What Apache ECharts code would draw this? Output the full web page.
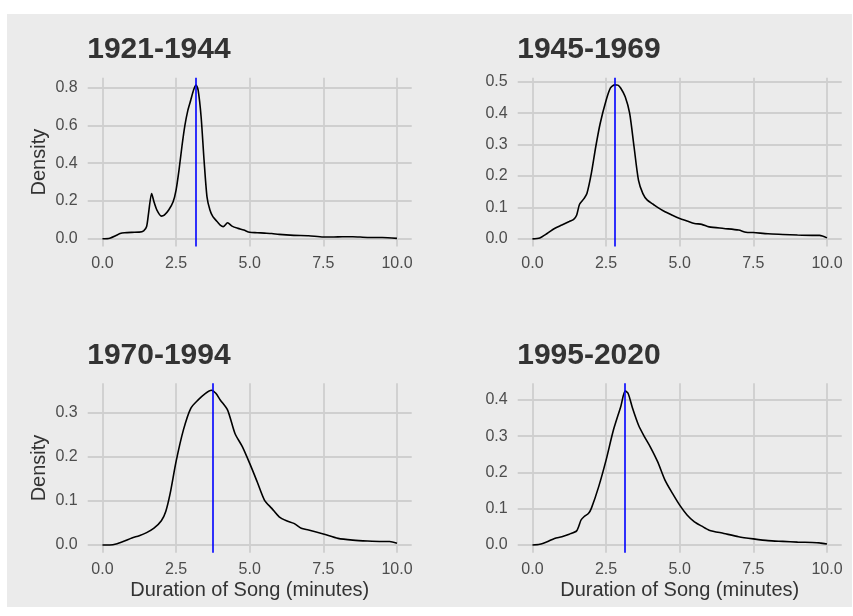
<!DOCTYPE html>
<html>
<head>
<meta charset="utf-8">
<script src="https://cdn.jsdelivr.net/npm/echarts@6/dist/echarts.min.js"></script>
<style>html,body{margin:0;padding:0;background:#fff}#c{width:853px;height:616px}</style>
</head>
<body>
<div id="c"></div>
<script>
const panelTitles = ['1921-1944', '1945-1969', '1970-1994', '1995-2020'];
const xTicks = [0, 2.5, 5, 7.5, 10];
const yTicks1 = [0, 0.2, 0.4, 0.6, 0.8];
const yTicks2 = [0, 0.1, 0.2, 0.3, 0.4, 0.5];
const yTicks3 = [0, 0.1, 0.2, 0.3];
const yTicks4 = [0, 0.1, 0.2, 0.3, 0.4];
const medians = [3.16, 2.80, 3.73, 3.14];
const xName = 'Duration of Song (minutes)';
const yName = 'Density';

const curve1 = [[0,0],[0.25,0.003],[0.5,0.02],[0.6,0.028],[0.75,0.032],[1.0,0.034],[1.25,0.035],[1.4,0.042],[1.5,0.065],[1.57,0.14],[1.67,0.24],[1.75,0.196],[1.85,0.152],[2.0,0.12],[2.1,0.125],[2.25,0.152],[2.4,0.196],[2.5,0.258],[2.6,0.364],[2.7,0.49],[2.8,0.6],[2.9,0.68],[3.0,0.735],[3.1,0.79],[3.18,0.814],[3.25,0.787],[3.35,0.646],[3.45,0.417],[3.55,0.222],[3.65,0.152],[3.75,0.117],[3.9,0.09],[4.0,0.072],[4.1,0.064],[4.25,0.085],[4.4,0.067],[4.6,0.055],[4.8,0.046],[5.0,0.034],[5.25,0.032],[5.5,0.03],[5.75,0.028],[6.0,0.023],[6.5,0.018],[7.0,0.016],[7.5,0.009],[8.0,0.01],[8.5,0.011],[9.0,0.007],[9.5,0.007],[10,0.002]];
const curve2 = [[0,0],[0.25,0.003],[0.5,0.017],[0.75,0.033],[1.0,0.044],[1.25,0.055],[1.4,0.062],[1.5,0.075],[1.6,0.11],[1.75,0.128],[1.85,0.144],[2.0,0.208],[2.15,0.293],[2.3,0.367],[2.5,0.44],[2.65,0.48],[2.8,0.49],[2.9,0.489],[3.0,0.479],[3.15,0.452],[3.3,0.40],[3.45,0.293],[3.6,0.187],[3.75,0.144],[3.9,0.123],[4.1,0.11],[4.25,0.10],[4.5,0.086],[4.75,0.075],[5.0,0.065],[5.25,0.057],[5.5,0.049],[5.75,0.046],[6.0,0.038],[6.5,0.033],[7.0,0.028],[7.25,0.021],[7.5,0.02],[8.0,0.016],[8.5,0.014],[9.0,0.012],[9.5,0.011],[9.75,0.011],[10,0.003]];
const curve3 = [[0,0],[0.25,0],[0.5,0.003],[0.75,0.009],[1.0,0.016],[1.25,0.021],[1.5,0.028],[1.75,0.038],[2.0,0.055],[2.15,0.076],[2.3,0.117],[2.5,0.189],[2.75,0.261],[3.0,0.31],[3.25,0.329],[3.5,0.344],[3.7,0.351],[3.85,0.344],[4.0,0.329],[4.25,0.306],[4.5,0.253],[4.75,0.223],[5.0,0.185],[5.25,0.144],[5.5,0.102],[5.75,0.083],[6.0,0.064],[6.25,0.055],[6.5,0.049],[6.75,0.038],[7.0,0.034],[7.5,0.025],[8.0,0.015],[8.5,0.011],[9.0,0.009],[9.5,0.008],[9.75,0.008],[10,0.004]];
const curve4 = [[0,0],[0.25,0.002],[0.5,0.009],[0.75,0.018],[1.0,0.023],[1.25,0.03],[1.5,0.039],[1.65,0.069],[1.75,0.078],[1.9,0.087],[2.0,0.101],[2.25,0.161],[2.5,0.234],[2.75,0.317],[3.0,0.382],[3.15,0.425],[3.25,0.418],[3.4,0.377],[3.6,0.331],[3.8,0.299],[4.0,0.271],[4.25,0.23],[4.5,0.179],[4.75,0.143],[5.0,0.11],[5.25,0.083],[5.5,0.064],[5.75,0.052],[6.0,0.041],[6.5,0.032],[7.0,0.023],[7.5,0.017],[8.0,0.012],[8.5,0.01],[9.0,0.008],[9.5,0.007],[9.75,0.006],[10,0.003]];

const curves = [curve1, curve2, curve3, curve4];
const yTicksAll = [yTicks1, yTicks2, yTicks3, yTicks4];

const FONT = '"Liberation Sans", Arial, Helvetica, sans-serif';
const layout = [
  {left: 87.7, top: 77.7, height: 168.8, ymin: -0.041, ymax: 0.853},
  {left: 517.7, top: 77.7, height: 168.8, ymin: -0.0244, ymax: 0.5127},
  {left: 87.7, top: 383.3, height: 169.4, ymin: -0.0175, ymax: 0.3667},
  {left: 517.7, top: 383.3, height: 169.4, ymin: -0.0212, ymax: 0.446}
];
const PW = 324;
const gridColor = '#CFCFCF';

const grids = [], xAxes = [], yAxes = [], series = [], titles = [];
layout.forEach((L, i) => {
  grids.push({left: L.left, top: L.top, width: PW, height: L.height, containLabel: false});
  titles.push({
    text: panelTitles[i], left: L.left - 0.5, top: L.top - 42.5, padding: 0,
    textStyle: {fontFamily: FONT, fontSize: 30, fontWeight: 'bold', color: '#333333'}
  });
  xAxes.push({
    type: 'value', gridIndex: i, min: -0.5, max: 10.5,
    axisLine: {show: false}, axisTick: {show: false}, splitLine: {show: false},
    axisLabel: {customValues: xTicks, formatter: v => v.toFixed(1), margin: 9,
      fontFamily: FONT, fontSize: 16, color: '#4D4D4D'},
    name: i >= 2 ? xName : '', nameLocation: 'middle', nameGap: 28,
    nameTextStyle: {fontFamily: FONT, fontSize: 20, color: '#333333'}
  });
  yAxes.push({
    type: 'value', gridIndex: i, min: L.ymin, max: L.ymax,
    axisLine: {show: false}, axisTick: {show: false}, splitLine: {show: false},
    axisLabel: {customValues: yTicksAll[i], formatter: v => v.toFixed(1), margin: 10,
      fontFamily: FONT, fontSize: 16, color: '#4D4D4D'},
    name: (i % 2 === 0) ? yName : '', nameLocation: 'middle', nameGap: 38,
    nameTextStyle: {fontFamily: FONT, fontSize: 20, color: '#333333'}
  });
  series.push({
    type: 'line', xAxisIndex: i, yAxisIndex: i, data: [], z: 1, silent: true,
    markLine: {
      z: 1, silent: true, symbol: 'none', animation: false,
      label: {show: false},
      lineStyle: {color: gridColor, width: 1.8, type: 'solid'},
      data: yTicksAll[i].map(v => ({yAxis: v})).concat(xTicks.map(v => ({xAxis: v})))
    }
  });
  series.push({
    type: 'line', xAxisIndex: i, yAxisIndex: i, data: curves[i], z: 3,
    showSymbol: false, smooth: 0.25, animation: false,
    lineStyle: {color: '#000000', width: 1.6}
  });
  series.push({
    type: 'line', xAxisIndex: i, yAxisIndex: i, data: [], z: 6, silent: true,
    markLine: {
      z: 6, silent: true, symbol: 'none', animation: false,
      label: {show: false},
      lineStyle: {color: '#0000FF', width: 1.6, type: 'solid'},
      data: [{xAxis: medians[i]}]
    }
  });
});

const chart = echarts.init(document.getElementById('c'), null, {renderer: 'canvas'});
chart.setOption({
  backgroundColor: '#FFFFFF',
  animation: false,
  graphic: [{type: 'rect', z: -10, shape: {x: 7, y: 14, width: 845, height: 593}, style: {fill: '#EBEBEB'}}],
  title: titles,
  grid: grids,
  xAxis: xAxes,
  yAxis: yAxes,
  series: series
});
</script>
</body>
</html>
